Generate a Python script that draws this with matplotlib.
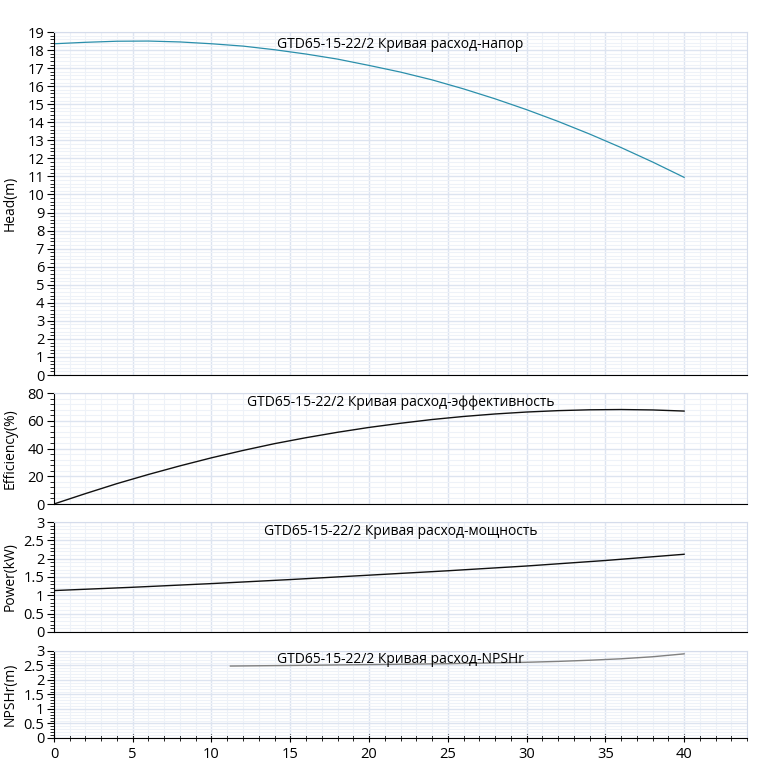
import numpy as np
import matplotlib.pyplot as plt
from matplotlib.ticker import MultipleLocator, FormatStrFormatter

plt.rcParams['font.family'] = ['Open Sans', 'DejaVu Sans']

# flow values (m3/h)
flow = [0, 2, 4, 6, 8, 10, 12, 14, 16, 18, 20, 22, 24, 26, 28, 30, 32, 34, 36, 38, 40]
head = [18.35, 18.43, 18.49, 18.5, 18.45, 18.35, 18.22, 18.02, 17.78, 17.5, 17.15,
        16.78, 16.35, 15.85, 15.3, 14.7, 14.05, 13.35, 12.6, 11.8, 10.95]
efficiency = [0, 7.5, 14.7, 21.3, 27.5, 33.3, 38.6, 43.5, 47.8, 51.7, 55.2,
              58.2, 60.9, 63.1, 64.9, 66.3, 67.3, 67.9, 68.1, 67.8, 67]

flow_p = [0, 5, 10, 15, 20, 25, 30, 35, 40]
power = [1.13, 1.22, 1.32, 1.43, 1.55, 1.67, 1.8, 1.95, 2.12]

flow_n = [11.2, 15, 20, 25, 28, 30, 32, 34, 36, 38, 40]
npshr = [2.48, 2.5, 2.53, 2.56, 2.59, 2.61, 2.64, 2.68, 2.73, 2.8, 2.9]

title = 'GTD65-15-22/2 Кривая расход-'

fig = plt.figure(figsize=(7.71, 7.68), dpi=100)
left, width = 0.070, 0.899
boxes = [(0.5117, 0.4466), (0.34375, 0.1445), (0.1771, 0.1432), (0.0391, 0.1133)]

panels = [
    (flow, head, '#2b8fab', 'Head(m)', 'напор', 19, 1, 0.2, 0.9),
    (flow, efficiency, '#111111', 'Efficiency(%)', 'эффективность', 80, 20, 4, 1.0),
    (flow_p, power, '#111111', 'Power(kW)', 'мощность', 3, 0.5, 0.1, 1.0),
    (flow_n, npshr, '#808080', 'NPSHr(m)', 'NPSHr', 3, 0.5, 0.1, 1.0),
]

for i, (x, y, col, ylab, name, ymax, major, minor, lw) in enumerate(panels):
    b, h = boxes[i]
    ax = fig.add_axes([left, b, width, h])
    ax.plot(x, y, color=col, lw=lw)
    ax.set_xlim(0, 44)
    ax.set_ylim(0, ymax)
    ax.xaxis.set_major_locator(MultipleLocator(5))
    ax.xaxis.set_minor_locator(MultipleLocator(1))
    ax.yaxis.set_major_locator(MultipleLocator(major))
    ax.yaxis.set_minor_locator(MultipleLocator(minor))
    ax.yaxis.set_major_formatter(FormatStrFormatter('%g'))
    ax.grid(which='major', color='#dde4f0', lw=1.0)
    ax.grid(which='minor', color='#eef2f8', lw=0.8)
    ax.set_axisbelow(True)
    for s in ['top', 'right']:
        ax.spines[s].set_color('#d5dceb')
    ax.spines['left'].set_color('black')
    ax.spines['bottom'].set_color('black')
    ax.tick_params(axis='y', which='major', length=5, labelsize=10.5, pad=2)
    ax.tick_params(axis='y', which='minor', length=3)
    if i < 3:
        ax.tick_params(axis='x', which='both', length=0, labelbottom=False)
    else:
        ax.tick_params(axis='x', which='major', length=6, direction='inout', labelsize=10.5)
        ax.tick_params(axis='x', which='minor', length=5, direction='inout')
    ax.set_ylabel(ylab, fontsize=10)
    ax.yaxis.set_label_coords(-0.053, 0.5)
    ax.text(0.5, 0.985, title + name, transform=ax.transAxes, ha='center',
            va='top', fontsize=10)

fig.savefig('out.png', dpi=100)
